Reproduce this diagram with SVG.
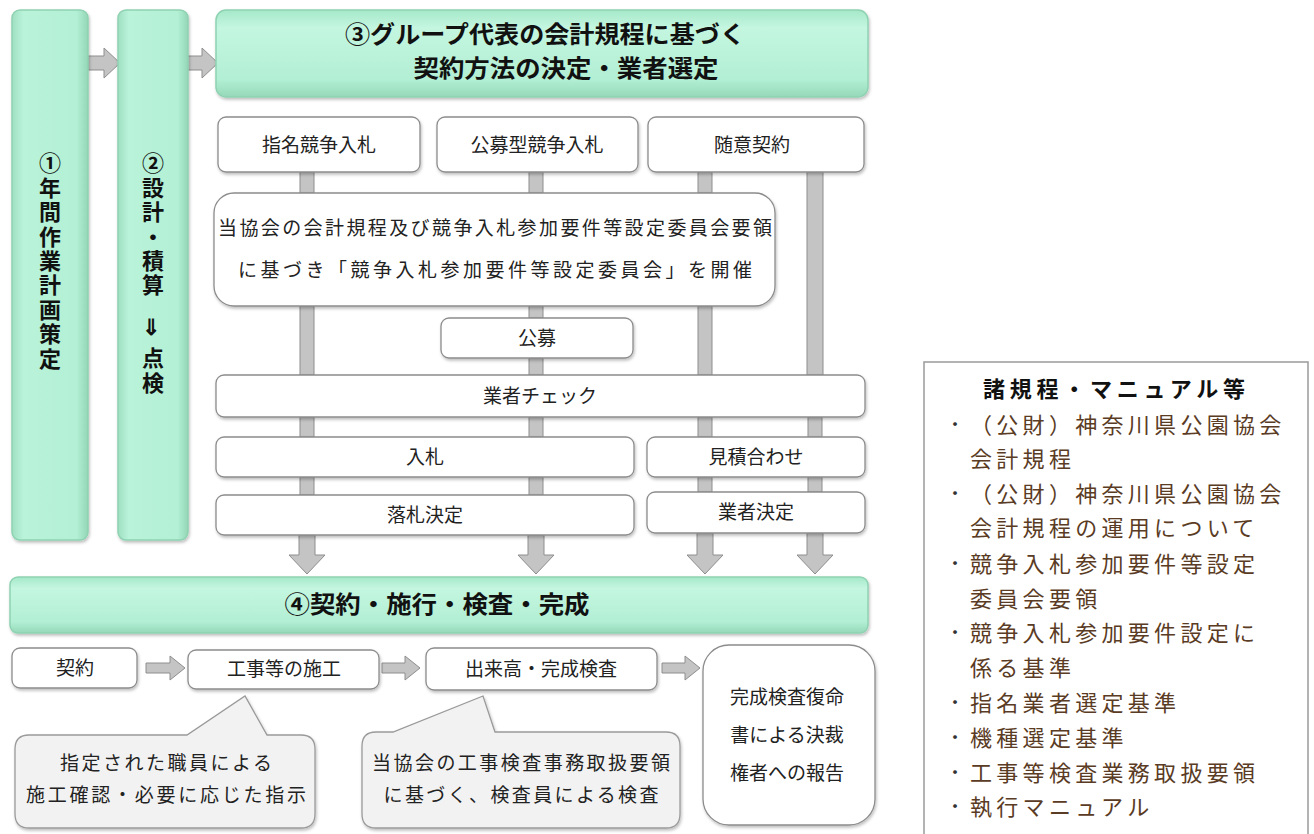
<svg xmlns="http://www.w3.org/2000/svg" width="1314" height="834" viewBox="0 0 1314 834">
<defs>
<linearGradient id="gv" x1="0" y1="0" x2="1" y2="0">
<stop offset="0" stop-color="#9fdfc1"/><stop offset="0.15" stop-color="#b9f3da"/><stop offset="0.85" stop-color="#b3f0d5"/><stop offset="1" stop-color="#93d6b6"/>
</linearGradient>
<linearGradient id="gh" x1="0" y1="0" x2="0" y2="1">
<stop offset="0" stop-color="#a5e8c9"/><stop offset="0.2" stop-color="#c4f6e0"/><stop offset="0.8" stop-color="#b2efd4"/><stop offset="1" stop-color="#95d8b8"/>
</linearGradient>
<filter id="sh" x="-10%" y="-10%" width="120%" height="130%">
<feDropShadow dx="1" dy="2" stdDeviation="1.5" flood-color="#000" flood-opacity="0.25"/>
</filter>
<style>
.bar{fill:url(#gv);stroke:#8fd2b2;stroke-width:1.5;filter:url(#sh)}
.hdr{fill:url(#gh);stroke:#8fd2b2;stroke-width:1.5;filter:url(#sh)}
.box{fill:#fff;stroke:#8c8c8c;stroke-width:1.3;filter:url(#sh)}
.call{fill:#f2f2f2;stroke:#9a9a9a;stroke-width:1.3;filter:url(#sh)}
.con{fill:#c4c4c4;stroke:#8e8e8e;stroke-width:1}
.t{font-family:"Noto Sans CJK JP","Noto Sans",sans-serif;font-size:19px;fill:#222;text-anchor:middle}
.tb{font-family:"Noto Sans CJK JP","Noto Sans",sans-serif;font-size:24px;font-weight:700;fill:#111;text-anchor:middle}
.tv{font-family:"Noto Sans CJK JP","Noto Sans",sans-serif;font-size:22px;font-weight:700;fill:#111;writing-mode:vertical-rl;text-orientation:upright;letter-spacing:2.4px}
.li{font-family:"Noto Sans CJK JP","Noto Sans",sans-serif;font-size:22px;fill:#5a3b24;letter-spacing:4.3px}
.bu{font-family:"Noto Sans CJK JP","Noto Sans",sans-serif;font-size:18px;fill:#333;text-anchor:middle}
</style>
</defs>
<rect width="1314" height="834" fill="#fff"/>

<g id="connectors">
<path class="con" d="M88,56 H104 V48 L120,63 L104,78 V70 H88 Z"/>
<path class="con" d="M186,56 H202 V48 L218,63 L202,78 V70 H186 Z"/>
<rect class="con" x="300" y="172" width="14" height="21"/>
<rect class="con" x="529" y="172" width="14" height="21"/>
<rect class="con" x="698" y="172" width="14" height="21"/>
<rect class="con" x="807" y="172" width="16" height="203"/>
<rect class="con" x="300" y="306" width="14" height="69"/>
<rect class="con" x="529" y="306" width="14" height="12"/>
<rect class="con" x="529" y="358" width="14" height="17"/>
<rect class="con" x="698" y="306" width="14" height="69"/>
<rect class="con" x="300" y="417" width="14" height="20"/>
<rect class="con" x="529" y="417" width="14" height="20"/>
<rect class="con" x="698" y="417" width="14" height="20"/>
<rect class="con" x="808" y="417" width="14" height="20"/>
<rect class="con" x="300" y="477" width="14" height="18"/>
<rect class="con" x="529" y="477" width="14" height="18"/>
<rect class="con" x="698" y="477" width="14" height="15"/>
<rect class="con" x="808" y="477" width="14" height="15"/>
<path class="con" d="M299,535 H315 V555 H325 L307,574 L289,555 H299 Z"/>
<path class="con" d="M528,535 H544 V555 H554 L536,574 L518,555 H528 Z"/>
<path class="con" d="M697,533 H713 V555 H723 L705,574 L687,555 H697 Z"/>
<path class="con" d="M807,533 H823 V555 H833 L815,574 L797,555 H807 Z"/>
<path class="con" d="M146,663 H170 V656 L185,668 L170,680 V673 H146 Z"/>
<path class="con" d="M382,663 H405 V656 L420,668 L405,680 V673 H382 Z"/>
<path class="con" d="M662,663 H685 V656 L700,668 L685,680 V673 H662 Z"/>
</g>

<g id="n1">
<rect class="bar" x="12" y="10" width="76" height="530" rx="8"/>
<text class="tv" x="50" y="152">①年間作業計画策定</text>
</g>
<g id="n2">
<rect class="bar" x="118" y="10" width="70" height="530" rx="8"/>
<text class="tv" x="153" y="152">②設計・積算</text>
<text class="tv" x="153" y="315">⇓</text>
<text class="tv" x="153" y="347">点検</text>
</g>
<g id="n3">
<rect class="hdr" x="216" y="10" width="652" height="87" rx="10"/>
<text class="tb" x="545" y="43" textLength="400" lengthAdjust="spacingAndGlyphs">③グループ代表の会計規程に基づく</text>
<text class="tb" x="566" y="77" textLength="305" lengthAdjust="spacingAndGlyphs">契約方法の決定・業者選定</text>
</g>
<g id="n-shimei"><rect class="box" x="218" y="117" width="202" height="55" rx="8"/><text class="t" x="319" y="152">指名競争入札</text></g>
<g id="n-koubo-kyousou"><rect class="box" x="437" y="117" width="201" height="55" rx="8"/><text class="t" x="537" y="152">公募型競争入札</text></g>
<g id="n-zuii"><rect class="box" x="648" y="117" width="216" height="55" rx="8"/><text class="t" x="752" y="152">随意契約</text></g>
<g id="n-iinkai"><rect class="box" x="214" y="193" width="561" height="113" rx="20"/>
<text class="t" x="495" y="235" textLength="554" lengthAdjust="spacing">当協会の会計規程及び競争入札参加要件等設定委員会要領</text>
<text class="t" x="495" y="277" textLength="514" lengthAdjust="spacing">に基づき「競争入札参加要件等設定委員会」を開催</text></g>
<g id="n-koubo"><rect class="box" x="441" y="318" width="192" height="40" rx="8"/><text class="t" x="537" y="345">公募</text></g>
<g id="n-check"><rect class="box" x="216" y="375" width="649" height="42" rx="8"/><text class="t" x="540" y="403">業者チェック</text></g>
<g id="n-nyusatsu"><rect class="box" x="216" y="437" width="418" height="40" rx="8"/><text class="t" x="425" y="464">入札</text></g>
<g id="n-mitsumori"><rect class="box" x="647" y="437" width="218" height="40" rx="8"/><text class="t" x="756" y="464">見積合わせ</text></g>
<g id="n-rakusatsu"><rect class="box" x="216" y="495" width="418" height="40" rx="8"/><text class="t" x="425" y="522">落札決定</text></g>
<g id="n-gyosha"><rect class="box" x="647" y="492" width="218" height="41" rx="8"/><text class="t" x="756" y="519">業者決定</text></g>
<g id="n4">
<rect class="hdr" x="10" y="577" width="858" height="56" rx="8"/>
<text class="tb" x="437" y="613" textLength="305" lengthAdjust="spacingAndGlyphs">④契約・施行・検査・完成</text>
</g>
<g id="n-keiyaku"><rect class="box" x="12" y="648" width="125" height="40" rx="8"/><text class="t" x="75" y="675">契約</text></g>
<g id="n-seko"><rect class="box" x="188" y="650" width="191" height="39" rx="8"/><text class="t" x="284" y="676">工事等の施工</text></g>
<g id="n-kensa"><rect class="box" x="426" y="648" width="231" height="42" rx="8"/><text class="t" x="541" y="676">出来高・完成検査</text></g>
<g id="n-houkoku"><rect class="box" x="703" y="645" width="172" height="180" rx="26"/>
<text class="t" x="787" y="704">完成検査復命</text><text class="t" x="787" y="742">書による決裁</text><text class="t" x="787" y="780">権者への報告</text></g>
<g id="n-call1">
<path class="call" d="M29,735 L187,735 L245,696 L267,735 L301,735 Q315,735 315,749 L315,814 Q315,828 301,828 L29,828 Q15,828 15,814 L15,749 Q15,735 29,735 Z"/>
<text class="t" x="166" y="770" textLength="212" lengthAdjust="spacing">指定された職員による</text>
<text class="t" x="166" y="802" textLength="280" lengthAdjust="spacing">施工確認・必要に応じた指示</text>
</g>
<g id="n-call2">
<path class="call" d="M376,732 L393,732 L483,696 L495,732 L666,732 Q680,732 680,746 L680,814 Q680,828 666,828 L376,828 Q362,828 362,814 L362,746 Q362,732 376,732 Z"/>
<text class="t" x="521" y="770" textLength="298" lengthAdjust="spacing">当協会の工事検査事務取扱要領</text>
<text class="t" x="521" y="802" textLength="275" lengthAdjust="spacing">に基づく、検査員による検査</text>
</g>
<g id="n-kitei">
<rect x="924" y="362" width="384" height="480" fill="#fff" stroke="#9a9a9a" stroke-width="1.5"/>
<text class="tb" x="1114" y="397" style="font-size:22px" textLength="262" lengthAdjust="spacing">諸規程・マニュアル等</text>
<text class="bu" x="955" y="431">・</text><text class="li" x="970" y="433">（公財）神奈川県公園協会</text>
<text class="li" x="970" y="467">会計規程</text>
<text class="bu" x="955" y="500">・</text><text class="li" x="970" y="502">（公財）神奈川県公園協会</text>
<text class="li" x="970" y="536">会計規程の運用について</text>
<text class="bu" x="955" y="570">・</text><text class="li" x="970" y="572">競争入札参加要件等設定</text>
<text class="li" x="970" y="607">委員会要領</text>
<text class="bu" x="955" y="639">・</text><text class="li" x="970" y="641">競争入札参加要件設定に</text>
<text class="li" x="970" y="676">係る基準</text>
<text class="bu" x="955" y="709">・</text><text class="li" x="970" y="711">指名業者選定基準</text>
<text class="bu" x="955" y="744">・</text><text class="li" x="970" y="746">機種選定基準</text>
<text class="bu" x="955" y="779">・</text><text class="li" x="970" y="781">工事等検査業務取扱要領</text>
<text class="bu" x="955" y="813">・</text><text class="li" x="970" y="815">執行マニュアル</text>
</g>
</svg>
